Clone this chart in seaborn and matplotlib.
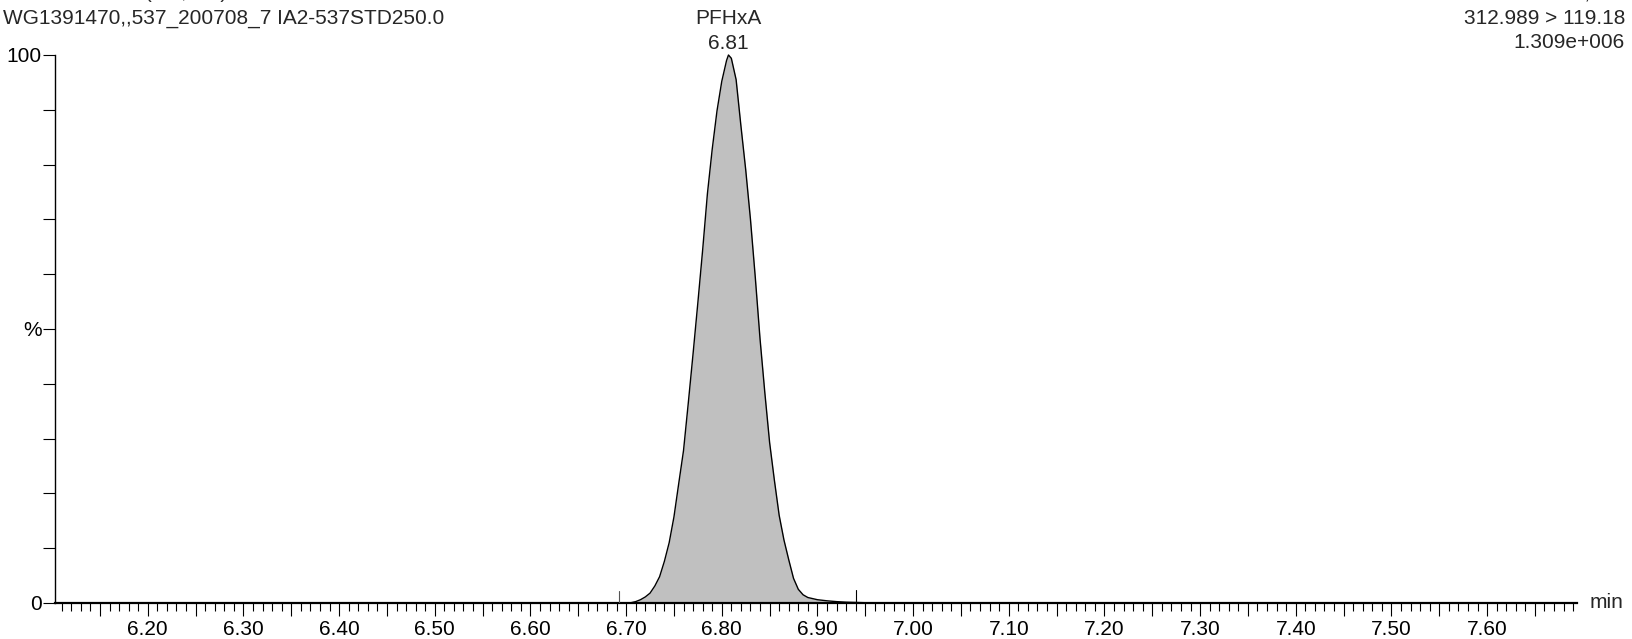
import matplotlib
matplotlib.use("Agg")
import matplotlib.pyplot as plt
import seaborn as sns
import pandas as pd
from matplotlib.ticker import MultipleLocator, FixedLocator, FuncFormatter
from matplotlib.transforms import offset_copy

# ---- data ----
time_min = [6.103, 6.690, 6.700, 6.705, 6.710, 6.715, 6.720, 6.725, 6.730, 6.735,
            6.740, 6.745, 6.750, 6.755, 6.760, 6.765, 6.770, 6.775, 6.780, 6.785,
            6.790, 6.795, 6.800, 6.805, 6.807, 6.810, 6.815, 6.820, 6.825, 6.830,
            6.835, 6.840, 6.845, 6.850, 6.855, 6.860, 6.865, 6.870, 6.875, 6.880,
            6.885, 6.890, 6.895, 6.900, 6.910, 6.920, 6.930, 6.940, 6.950, 6.960,
            7.694]
intensity_pct = [0.0, 0.0, 0.0, 0.05, 0.25, 0.6, 1.1, 1.8, 3.1, 4.8,
                 7.6, 11.0, 15.7, 21.8, 27.8, 36.5, 45.5, 54.8, 64.4, 74.7,
                 82.8, 89.8, 95.2, 99.0, 100.0, 99.4, 95.5, 87.1, 79.1, 70.0,
                 59.5, 48.2, 38.4, 29.3, 22.4, 16.0, 11.5, 7.9, 4.5, 2.5,
                 1.5, 1.0, 0.8, 0.6, 0.4, 0.25, 0.15, 0.1, 0.05, 0.0,
                 0.0]
peak_start = 6.693
peak_end = 6.940
apex_time = 6.807
compound = "PFHxA"
apex_label = "6.81"
header_left = ["I25250 Smooth(Mn,2x3)", "WG1391470,,537_200708_7 IA2-537STD250.0"]
header_right = ["F13:MRM of 2 Channels,ES-", "312.989 > 119.18", "1.309e+006"]
x_label_ticks = [6.20, 6.30, 6.40, 6.50, 6.60, 6.70, 6.80, 6.90, 7.00, 7.10,
                 7.20, 7.30, 7.40, 7.50, 7.60]
y_label_ticks = {0: "0", 50: "%", 100: "100"}

FS = 15

df = pd.DataFrame({"t": time_min, "i": intensity_pct})

sns.set_style("white")
plt.rcParams["font.family"] = ["Liberation Sans", "DejaVu Sans"]

fig = plt.figure(figsize=(16.32, 6.39), dpi=100)
ax = fig.add_axes([55 / 1632, 36 / 639, 1522 / 1632, 548 / 639])

sns.lineplot(data=df, x="t", y="i", ax=ax, color="black", linewidth=1.0,
             sort=False, estimator=None, clip_on=False, zorder=3)
mask = (df["t"] >= peak_start) & (df["t"] <= peak_end)
ax.fill_between(df["t"][mask], 0, df["i"][mask], color="#c0c0c0", linewidth=0, zorder=2)

# integration markers
ax.plot([peak_start, peak_start], [0, 2.1], color="#555555", linewidth=0.8, zorder=4)
ax.plot([peak_end, peak_end], [0, 2.3], color="black", linewidth=0.8, zorder=4)

ax.set_xlim(6.103, 7.694)
ax.set_ylim(0, 100)

for s in ["top", "right"]:
    ax.spines[s].set_visible(False)
ax.spines["left"].set_linewidth(1.0)
ax.spines["bottom"].set_linewidth(1.6)
ax.spines["left"].set_color("black")
ax.spines["bottom"].set_color("black")

ax.xaxis.set_major_locator(MultipleLocator(0.05))
ax.xaxis.set_minor_locator(MultipleLocator(0.01))

def xfmt(v, pos):
    for t in x_label_ticks:
        if abs(v - t) < 1e-6:
            return f"{t:.2f}"
    return ""

ax.xaxis.set_major_formatter(FuncFormatter(xfmt))
ax.yaxis.set_major_locator(FixedLocator(list(range(0, 101, 10))))
ax.yaxis.set_major_formatter(FuncFormatter(lambda v, p: y_label_ticks.get(int(round(v)), "")))

ax.tick_params(axis="x", which="major", direction="out", length=9.5, width=0.8,
               pad=3, labelsize=FS, colors="black", bottom=True)
ax.tick_params(axis="x", which="minor", direction="out", length=5.5, width=0.8,
               colors="black", bottom=True)
ax.tick_params(axis="y", which="major", direction="out", length=8.5, width=0.8,
               pad=1, labelsize=FS, colors="black", left=True)
ax.set_xlabel("")
ax.set_ylabel("")

ax.text(1.0, 0.0, "min", transform=offset_copy(ax.transAxes, fig=fig, x=13, y=0, units="dots"),
        ha="left", va="center", fontsize=FS)

# peak label
ax.annotate(apex_label, xy=(apex_time, 100), xytext=(0, 8.6), textcoords="offset points",
            ha="center", va="center", fontsize=FS)
ax.annotate(compound, xy=(apex_time, 100), xytext=(0, 26.6), textcoords="offset points",
            ha="center", va="center", fontsize=FS)

# headers
fig.text(3 / 1632, 1 - (-7) / 639, header_left[0], ha="left", va="center", fontsize=FS)
fig.text(3 / 1632, 1 - 18 / 639, header_left[1], ha="left", va="center", fontsize=FS)
fig.text(1625 / 1632, 1 - (-7) / 639, header_right[0], ha="right", va="center", fontsize=FS)
fig.text(1625 / 1632, 1 - 18 / 639, header_right[1], ha="right", va="center", fontsize=FS)
fig.text(1625 / 1632, 1 - 43 / 639, header_right[2], ha="right", va="center", fontsize=FS)

fig.savefig("out.png", dpi=100)
